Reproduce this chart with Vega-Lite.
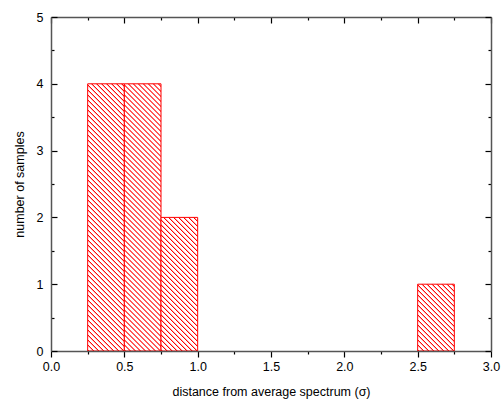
{
  "$schema": "https://vega.github.io/schema/vega-lite/v6.json",
  "width": 440,
  "height": 334,
  "autosize": "none",
  "padding": {"left": 51, "top": 17, "right": 10, "bottom": 49},
  "config": {"view": {"stroke": null}, "font": "Liberation Sans"},
  "data": {"values": [
    {"bin_start": 0.25, "bin_end": 0.5, "count": 4},
    {"bin_start": 0.5, "bin_end": 0.75, "count": 4},
    {"bin_start": 0.75, "bin_end": 1.0, "count": 2},
    {"bin_start": 2.5, "bin_end": 2.75, "count": 1}
  ]},
  "resolve": {"axis": {"x": "independent", "y": "independent"}},
  "layer": [
    {
      "mark": {"type": "rect", "stroke": "#ff0000", "strokeWidth": 1},
      "encoding": {
        "x": {
          "field": "bin_start", "type": "quantitative",
          "scale": {"domain": [0, 3], "nice": false},
          "axis": {
            "orient": "bottom",
            "values": [0, 0.25, 0.5, 0.75, 1, 1.25, 1.5, 1.75, 2, 2.25, 2.5, 2.75, 3],
            "labelExpr": "datum.value % 0.5 == 0 ? format(datum.value, '.1f') : ''",
            "tickSize": {"condition": {"test": "datum.value % 0.5 != 0", "value": 3}, "value": 6},
            "labelFlush": false, "labelOverlap": false, "labelPadding": 3.5,
            "labelFontSize": 12.5, "labelColor": "#000", "labelFont": "Liberation Sans",
            "title": "distance from average spectrum (σ)",
            "titleFontSize": 12.5, "titleFontWeight": "normal", "titleColor": "#000", "titleFont": "Liberation Sans",
            "titlePadding": 12,
            "domainColor": "#555", "domainWidth": 1.5, "tickColor": "#000", "tickWidth": 1.2,
            "grid": false, "zindex": 1
          }
        },
        "x2": {"field": "bin_end"},
        "y": {
          "field": "count", "type": "quantitative",
          "scale": {"domain": [0, 5], "nice": false},
          "axis": {
            "orient": "left",
            "values": [0, 0.5, 1, 1.5, 2, 2.5, 3, 3.5, 4, 4.5, 5],
            "labelExpr": "datum.value % 1 == 0 ? format(datum.value, 'd') : ''",
            "tickSize": {"condition": {"test": "datum.value % 1 != 0", "value": -3}, "value": -6},
            "labelFlush": false, "labelOverlap": false, "labelPadding": 14,
            "labelFontSize": 12.5, "labelColor": "#000", "labelFont": "Liberation Sans",
            "title": "number of samples",
            "titleFontSize": 12.5, "titleFontWeight": "normal", "titleColor": "#000", "titleFont": "Liberation Sans",
            "titlePadding": 10,
            "domainColor": "#555", "domainWidth": 1.5, "tickColor": "#000", "tickWidth": 1.2,
            "grid": false, "zindex": 1
          }
        },
        "y2": {"datum": 0},
        "fill": {
          "condition": [
            {"test": "datum.count == 4", "value": {"gradient": "linear", "x1": 0, "y1": 1, "x2": 0.153172, "y2": -0.116201, "stops": [
{"offset":0,"color":"#fff"},{"offset":0.00329,"color":"#f00"},{"offset":0.00428,"color":"#f00"},{"offset":0.00757,"color":"#fff"},
{"offset":0.01646,"color":"#fff"},{"offset":0.01975,"color":"#f00"},{"offset":0.02073,"color":"#f00"},{"offset":0.02402,"color":"#fff"},
{"offset":0.03291,"color":"#fff"},{"offset":0.03620,"color":"#f00"},{"offset":0.03719,"color":"#f00"},{"offset":0.04048,"color":"#fff"},
{"offset":0.04937,"color":"#fff"},{"offset":0.05266,"color":"#f00"},{"offset":0.05364,"color":"#f00"},{"offset":0.05693,"color":"#fff"},
{"offset":0.06582,"color":"#fff"},{"offset":0.06911,"color":"#f00"},{"offset":0.07010,"color":"#f00"},{"offset":0.07339,"color":"#fff"},
{"offset":0.08228,"color":"#fff"},{"offset":0.08557,"color":"#f00"},{"offset":0.08655,"color":"#f00"},{"offset":0.08984,"color":"#fff"},
{"offset":0.09873,"color":"#fff"},{"offset":0.10202,"color":"#f00"},{"offset":0.10301,"color":"#f00"},{"offset":0.10630,"color":"#fff"},
{"offset":0.11519,"color":"#fff"},{"offset":0.11848,"color":"#f00"},{"offset":0.11946,"color":"#f00"},{"offset":0.12275,"color":"#fff"},
{"offset":0.13164,"color":"#fff"},{"offset":0.13493,"color":"#f00"},{"offset":0.13592,"color":"#f00"},{"offset":0.13921,"color":"#fff"},
{"offset":0.14810,"color":"#fff"},{"offset":0.15139,"color":"#f00"},{"offset":0.15237,"color":"#f00"},{"offset":0.15566,"color":"#fff"},
{"offset":0.16455,"color":"#fff"},{"offset":0.16784,"color":"#f00"},{"offset":0.16883,"color":"#f00"},{"offset":0.17212,"color":"#fff"},
{"offset":0.18101,"color":"#fff"},{"offset":0.18430,"color":"#f00"},{"offset":0.18528,"color":"#f00"},{"offset":0.18857,"color":"#fff"},
{"offset":0.19746,"color":"#fff"},{"offset":0.20075,"color":"#f00"},{"offset":0.20174,"color":"#f00"},{"offset":0.20503,"color":"#fff"},
{"offset":0.21392,"color":"#fff"},{"offset":0.21721,"color":"#f00"},{"offset":0.21819,"color":"#f00"},{"offset":0.22148,"color":"#fff"},
{"offset":0.23037,"color":"#fff"},{"offset":0.23366,"color":"#f00"},{"offset":0.23465,"color":"#f00"},{"offset":0.23794,"color":"#fff"},
{"offset":0.24683,"color":"#fff"},{"offset":0.25012,"color":"#f00"},{"offset":0.25110,"color":"#f00"},{"offset":0.25439,"color":"#fff"},
{"offset":0.26328,"color":"#fff"},{"offset":0.26657,"color":"#f00"},{"offset":0.26756,"color":"#f00"},{"offset":0.27085,"color":"#fff"},
{"offset":0.27974,"color":"#fff"},{"offset":0.28303,"color":"#f00"},{"offset":0.28401,"color":"#f00"},{"offset":0.28730,"color":"#fff"},
{"offset":0.29619,"color":"#fff"},{"offset":0.29948,"color":"#f00"},{"offset":0.30047,"color":"#f00"},{"offset":0.30376,"color":"#fff"},
{"offset":0.31265,"color":"#fff"},{"offset":0.31594,"color":"#f00"},{"offset":0.31692,"color":"#f00"},{"offset":0.32021,"color":"#fff"},
{"offset":0.32910,"color":"#fff"},{"offset":0.33239,"color":"#f00"},{"offset":0.33338,"color":"#f00"},{"offset":0.33667,"color":"#fff"},
{"offset":0.34556,"color":"#fff"},{"offset":0.34885,"color":"#f00"},{"offset":0.34983,"color":"#f00"},{"offset":0.35312,"color":"#fff"},
{"offset":0.36201,"color":"#fff"},{"offset":0.36530,"color":"#f00"},{"offset":0.36629,"color":"#f00"},{"offset":0.36958,"color":"#fff"},
{"offset":0.37847,"color":"#fff"},{"offset":0.38176,"color":"#f00"},{"offset":0.38274,"color":"#f00"},{"offset":0.38603,"color":"#fff"},
{"offset":0.39492,"color":"#fff"},{"offset":0.39821,"color":"#f00"},{"offset":0.39920,"color":"#f00"},{"offset":0.40249,"color":"#fff"},
{"offset":0.41138,"color":"#fff"},{"offset":0.41467,"color":"#f00"},{"offset":0.41565,"color":"#f00"},{"offset":0.41894,"color":"#fff"},
{"offset":0.42783,"color":"#fff"},{"offset":0.43112,"color":"#f00"},{"offset":0.43211,"color":"#f00"},{"offset":0.43540,"color":"#fff"},
{"offset":0.44429,"color":"#fff"},{"offset":0.44758,"color":"#f00"},{"offset":0.44856,"color":"#f00"},{"offset":0.45185,"color":"#fff"},
{"offset":0.46074,"color":"#fff"},{"offset":0.46403,"color":"#f00"},{"offset":0.46502,"color":"#f00"},{"offset":0.46831,"color":"#fff"},
{"offset":0.47720,"color":"#fff"},{"offset":0.48049,"color":"#f00"},{"offset":0.48147,"color":"#f00"},{"offset":0.48476,"color":"#fff"},
{"offset":0.49365,"color":"#fff"},{"offset":0.49694,"color":"#f00"},{"offset":0.49793,"color":"#f00"},{"offset":0.50122,"color":"#fff"},
{"offset":0.51011,"color":"#fff"},{"offset":0.51340,"color":"#f00"},{"offset":0.51438,"color":"#f00"},{"offset":0.51767,"color":"#fff"},
{"offset":0.52656,"color":"#fff"},{"offset":0.52985,"color":"#f00"},{"offset":0.53084,"color":"#f00"},{"offset":0.53413,"color":"#fff"},
{"offset":0.54302,"color":"#fff"},{"offset":0.54631,"color":"#f00"},{"offset":0.54729,"color":"#f00"},{"offset":0.55058,"color":"#fff"},
{"offset":0.55947,"color":"#fff"},{"offset":0.56276,"color":"#f00"},{"offset":0.56375,"color":"#f00"},{"offset":0.56704,"color":"#fff"},
{"offset":0.57593,"color":"#fff"},{"offset":0.57922,"color":"#f00"},{"offset":0.58020,"color":"#f00"},{"offset":0.58349,"color":"#fff"},
{"offset":0.59238,"color":"#fff"},{"offset":0.59567,"color":"#f00"},{"offset":0.59666,"color":"#f00"},{"offset":0.59995,"color":"#fff"},
{"offset":0.60884,"color":"#fff"},{"offset":0.61213,"color":"#f00"},{"offset":0.61311,"color":"#f00"},{"offset":0.61640,"color":"#fff"},
{"offset":0.62529,"color":"#fff"},{"offset":0.62858,"color":"#f00"},{"offset":0.62957,"color":"#f00"},{"offset":0.63286,"color":"#fff"},
{"offset":0.64175,"color":"#fff"},{"offset":0.64504,"color":"#f00"},{"offset":0.64602,"color":"#f00"},{"offset":0.64931,"color":"#fff"},
{"offset":0.65820,"color":"#fff"},{"offset":0.66149,"color":"#f00"},{"offset":0.66248,"color":"#f00"},{"offset":0.66577,"color":"#fff"},
{"offset":0.67466,"color":"#fff"},{"offset":0.67795,"color":"#f00"},{"offset":0.67893,"color":"#f00"},{"offset":0.68222,"color":"#fff"},
{"offset":0.69111,"color":"#fff"},{"offset":0.69440,"color":"#f00"},{"offset":0.69539,"color":"#f00"},{"offset":0.69868,"color":"#fff"},
{"offset":0.70757,"color":"#fff"},{"offset":0.71086,"color":"#f00"},{"offset":0.71184,"color":"#f00"},{"offset":0.71513,"color":"#fff"},
{"offset":0.72402,"color":"#fff"},{"offset":0.72731,"color":"#f00"},{"offset":0.72830,"color":"#f00"},{"offset":0.73159,"color":"#fff"},
{"offset":0.74048,"color":"#fff"},{"offset":0.74377,"color":"#f00"},{"offset":0.74475,"color":"#f00"},{"offset":0.74804,"color":"#fff"},
{"offset":0.75693,"color":"#fff"},{"offset":0.76022,"color":"#f00"},{"offset":0.76121,"color":"#f00"},{"offset":0.76450,"color":"#fff"},
{"offset":0.77339,"color":"#fff"},{"offset":0.77668,"color":"#f00"},{"offset":0.77766,"color":"#f00"},{"offset":0.78095,"color":"#fff"},
{"offset":0.78984,"color":"#fff"},{"offset":0.79313,"color":"#f00"},{"offset":0.79412,"color":"#f00"},{"offset":0.79741,"color":"#fff"},
{"offset":0.80630,"color":"#fff"},{"offset":0.80959,"color":"#f00"},{"offset":0.81057,"color":"#f00"},{"offset":0.81386,"color":"#fff"},
{"offset":0.82275,"color":"#fff"},{"offset":0.82604,"color":"#f00"},{"offset":0.82703,"color":"#f00"},{"offset":0.83032,"color":"#fff"},
{"offset":0.83921,"color":"#fff"},{"offset":0.84250,"color":"#f00"},{"offset":0.84348,"color":"#f00"},{"offset":0.84677,"color":"#fff"},
{"offset":0.85566,"color":"#fff"},{"offset":0.85895,"color":"#f00"},{"offset":0.85994,"color":"#f00"},{"offset":0.86323,"color":"#fff"},
{"offset":0.87212,"color":"#fff"},{"offset":0.87541,"color":"#f00"},{"offset":0.87639,"color":"#f00"},{"offset":0.87968,"color":"#fff"},
{"offset":0.88857,"color":"#fff"},{"offset":0.89186,"color":"#f00"},{"offset":0.89285,"color":"#f00"},{"offset":0.89614,"color":"#fff"},
{"offset":0.90503,"color":"#fff"},{"offset":0.90832,"color":"#f00"},{"offset":0.90930,"color":"#f00"},{"offset":0.91259,"color":"#fff"},
{"offset":0.92148,"color":"#fff"},{"offset":0.92477,"color":"#f00"},{"offset":0.92576,"color":"#f00"},{"offset":0.92905,"color":"#fff"},
{"offset":0.93794,"color":"#fff"},{"offset":0.94123,"color":"#f00"},{"offset":0.94221,"color":"#f00"},{"offset":0.94550,"color":"#fff"},
{"offset":0.95439,"color":"#fff"},{"offset":0.95768,"color":"#f00"},{"offset":0.95867,"color":"#f00"},{"offset":0.96196,"color":"#fff"},
{"offset":0.97085,"color":"#fff"},{"offset":0.97414,"color":"#f00"},{"offset":0.97512,"color":"#f00"},{"offset":0.97841,"color":"#fff"},
{"offset":0.98730,"color":"#fff"},{"offset":0.99059,"color":"#f00"},{"offset":0.99158,"color":"#f00"},{"offset":0.99487,"color":"#fff"},
{"offset":1,"color":"#fff"}
            ]}},
            {"test": "datum.count == 2", "value": {"gradient": "linear", "x1": 0, "y1": 1, "x2": 0.325277, "y2": -0.185179, "stops": [
{"offset":0,"color":"#fff"},{"offset":0.00587,"color":"#f00"},{"offset":0.00764,"color":"#f00"},{"offset":0.01351,"color":"#fff"},
{"offset":0.02937,"color":"#fff"},{"offset":0.03524,"color":"#f00"},{"offset":0.03700,"color":"#f00"},{"offset":0.04287,"color":"#fff"},
{"offset":0.05873,"color":"#fff"},{"offset":0.06461,"color":"#f00"},{"offset":0.06637,"color":"#f00"},{"offset":0.07224,"color":"#fff"},
{"offset":0.08810,"color":"#fff"},{"offset":0.09397,"color":"#f00"},{"offset":0.09573,"color":"#f00"},{"offset":0.10161,"color":"#fff"},
{"offset":0.11746,"color":"#fff"},{"offset":0.12334,"color":"#f00"},{"offset":0.12510,"color":"#f00"},{"offset":0.13097,"color":"#fff"},
{"offset":0.14683,"color":"#fff"},{"offset":0.15270,"color":"#f00"},{"offset":0.15447,"color":"#f00"},{"offset":0.16034,"color":"#fff"},
{"offset":0.17620,"color":"#fff"},{"offset":0.18207,"color":"#f00"},{"offset":0.18383,"color":"#f00"},{"offset":0.18970,"color":"#fff"},
{"offset":0.20556,"color":"#fff"},{"offset":0.21144,"color":"#f00"},{"offset":0.21320,"color":"#f00"},{"offset":0.21907,"color":"#fff"},
{"offset":0.23493,"color":"#fff"},{"offset":0.24080,"color":"#f00"},{"offset":0.24256,"color":"#f00"},{"offset":0.24844,"color":"#fff"},
{"offset":0.26429,"color":"#fff"},{"offset":0.27017,"color":"#f00"},{"offset":0.27193,"color":"#f00"},{"offset":0.27780,"color":"#fff"},
{"offset":0.29366,"color":"#fff"},{"offset":0.29953,"color":"#f00"},{"offset":0.30130,"color":"#f00"},{"offset":0.30717,"color":"#fff"},
{"offset":0.32303,"color":"#fff"},{"offset":0.32890,"color":"#f00"},{"offset":0.33066,"color":"#f00"},{"offset":0.33653,"color":"#fff"},
{"offset":0.35239,"color":"#fff"},{"offset":0.35827,"color":"#f00"},{"offset":0.36003,"color":"#f00"},{"offset":0.36590,"color":"#fff"},
{"offset":0.38176,"color":"#fff"},{"offset":0.38763,"color":"#f00"},{"offset":0.38939,"color":"#f00"},{"offset":0.39527,"color":"#fff"},
{"offset":0.41112,"color":"#fff"},{"offset":0.41700,"color":"#f00"},{"offset":0.41876,"color":"#f00"},{"offset":0.42463,"color":"#fff"},
{"offset":0.44049,"color":"#fff"},{"offset":0.44636,"color":"#f00"},{"offset":0.44813,"color":"#f00"},{"offset":0.45400,"color":"#fff"},
{"offset":0.46986,"color":"#fff"},{"offset":0.47573,"color":"#f00"},{"offset":0.47749,"color":"#f00"},{"offset":0.48336,"color":"#fff"},
{"offset":0.49922,"color":"#fff"},{"offset":0.50510,"color":"#f00"},{"offset":0.50686,"color":"#f00"},{"offset":0.51273,"color":"#fff"},
{"offset":0.52859,"color":"#fff"},{"offset":0.53446,"color":"#f00"},{"offset":0.53622,"color":"#f00"},{"offset":0.54210,"color":"#fff"},
{"offset":0.55795,"color":"#fff"},{"offset":0.56383,"color":"#f00"},{"offset":0.56559,"color":"#f00"},{"offset":0.57146,"color":"#fff"},
{"offset":0.58732,"color":"#fff"},{"offset":0.59319,"color":"#f00"},{"offset":0.59496,"color":"#f00"},{"offset":0.60083,"color":"#fff"},
{"offset":0.61669,"color":"#fff"},{"offset":0.62256,"color":"#f00"},{"offset":0.62432,"color":"#f00"},{"offset":0.63019,"color":"#fff"},
{"offset":0.64605,"color":"#fff"},{"offset":0.65193,"color":"#f00"},{"offset":0.65369,"color":"#f00"},{"offset":0.65956,"color":"#fff"},
{"offset":0.67542,"color":"#fff"},{"offset":0.68129,"color":"#f00"},{"offset":0.68305,"color":"#f00"},{"offset":0.68893,"color":"#fff"},
{"offset":0.70478,"color":"#fff"},{"offset":0.71066,"color":"#f00"},{"offset":0.71242,"color":"#f00"},{"offset":0.71829,"color":"#fff"},
{"offset":0.73415,"color":"#fff"},{"offset":0.74002,"color":"#f00"},{"offset":0.74179,"color":"#f00"},{"offset":0.74766,"color":"#fff"},
{"offset":0.76352,"color":"#fff"},{"offset":0.76939,"color":"#f00"},{"offset":0.77115,"color":"#f00"},{"offset":0.77702,"color":"#fff"},
{"offset":0.79288,"color":"#fff"},{"offset":0.79876,"color":"#f00"},{"offset":0.80052,"color":"#f00"},{"offset":0.80639,"color":"#fff"},
{"offset":0.82225,"color":"#fff"},{"offset":0.82812,"color":"#f00"},{"offset":0.82988,"color":"#f00"},{"offset":0.83576,"color":"#fff"},
{"offset":0.85161,"color":"#fff"},{"offset":0.85749,"color":"#f00"},{"offset":0.85925,"color":"#f00"},{"offset":0.86512,"color":"#fff"},
{"offset":0.88098,"color":"#fff"},{"offset":0.88685,"color":"#f00"},{"offset":0.88862,"color":"#f00"},{"offset":0.89449,"color":"#fff"},
{"offset":0.91035,"color":"#fff"},{"offset":0.91622,"color":"#f00"},{"offset":0.91798,"color":"#f00"},{"offset":0.92385,"color":"#fff"},
{"offset":0.93971,"color":"#fff"},{"offset":0.94559,"color":"#f00"},{"offset":0.94735,"color":"#f00"},{"offset":0.95322,"color":"#fff"},
{"offset":0.96908,"color":"#fff"},{"offset":0.97495,"color":"#f00"},{"offset":0.97671,"color":"#f00"},{"offset":0.98259,"color":"#fff"},
{"offset":1,"color":"#fff"}
            ]}}
          ],
          "value": {"gradient": "linear", "x1": 0, "y1": 1, "x2": 0.653351, "y2": -0.190282, "stops": [
{"offset":0,"color":"#fff"},{"offset":0.00967,"color":"#f00"},{"offset":0.01257,"color":"#f00"},{"offset":0.02223,"color":"#fff"},
{"offset":0.04833,"color":"#fff"},{"offset":0.05799,"color":"#f00"},{"offset":0.06089,"color":"#f00"},{"offset":0.07056,"color":"#fff"},
{"offset":0.09665,"color":"#fff"},{"offset":0.10632,"color":"#f00"},{"offset":0.10922,"color":"#f00"},{"offset":0.11888,"color":"#fff"},
{"offset":0.14498,"color":"#fff"},{"offset":0.15464,"color":"#f00"},{"offset":0.15754,"color":"#f00"},{"offset":0.16721,"color":"#fff"},
{"offset":0.19330,"color":"#fff"},{"offset":0.20297,"color":"#f00"},{"offset":0.20587,"color":"#f00"},{"offset":0.21553,"color":"#fff"},
{"offset":0.24163,"color":"#fff"},{"offset":0.25129,"color":"#f00"},{"offset":0.25419,"color":"#f00"},{"offset":0.26386,"color":"#fff"},
{"offset":0.28995,"color":"#fff"},{"offset":0.29962,"color":"#f00"},{"offset":0.30252,"color":"#f00"},{"offset":0.31218,"color":"#fff"},
{"offset":0.33828,"color":"#fff"},{"offset":0.34794,"color":"#f00"},{"offset":0.35084,"color":"#f00"},{"offset":0.36051,"color":"#fff"},
{"offset":0.38660,"color":"#fff"},{"offset":0.39627,"color":"#f00"},{"offset":0.39917,"color":"#f00"},{"offset":0.40883,"color":"#fff"},
{"offset":0.43493,"color":"#fff"},{"offset":0.44459,"color":"#f00"},{"offset":0.44749,"color":"#f00"},{"offset":0.45716,"color":"#fff"},
{"offset":0.48325,"color":"#fff"},{"offset":0.49292,"color":"#f00"},{"offset":0.49582,"color":"#f00"},{"offset":0.50548,"color":"#fff"},
{"offset":0.53158,"color":"#fff"},{"offset":0.54124,"color":"#f00"},{"offset":0.54414,"color":"#f00"},{"offset":0.55381,"color":"#fff"},
{"offset":0.57990,"color":"#fff"},{"offset":0.58957,"color":"#f00"},{"offset":0.59247,"color":"#f00"},{"offset":0.60213,"color":"#fff"},
{"offset":0.62823,"color":"#fff"},{"offset":0.63789,"color":"#f00"},{"offset":0.64079,"color":"#f00"},{"offset":0.65046,"color":"#fff"},
{"offset":0.67655,"color":"#fff"},{"offset":0.68622,"color":"#f00"},{"offset":0.68912,"color":"#f00"},{"offset":0.69878,"color":"#fff"},
{"offset":0.72488,"color":"#fff"},{"offset":0.73454,"color":"#f00"},{"offset":0.73744,"color":"#f00"},{"offset":0.74711,"color":"#fff"},
{"offset":0.77320,"color":"#fff"},{"offset":0.78287,"color":"#f00"},{"offset":0.78577,"color":"#f00"},{"offset":0.79543,"color":"#fff"},
{"offset":0.82153,"color":"#fff"},{"offset":0.83119,"color":"#f00"},{"offset":0.83409,"color":"#f00"},{"offset":0.84376,"color":"#fff"},
{"offset":0.86985,"color":"#fff"},{"offset":0.87952,"color":"#f00"},{"offset":0.88242,"color":"#f00"},{"offset":0.89208,"color":"#fff"},
{"offset":0.91818,"color":"#fff"},{"offset":0.92784,"color":"#f00"},{"offset":0.93074,"color":"#f00"},{"offset":0.94041,"color":"#fff"},
{"offset":0.96650,"color":"#fff"},{"offset":0.97617,"color":"#f00"},{"offset":0.97907,"color":"#f00"},{"offset":0.98873,"color":"#fff"},
{"offset":1,"color":"#fff"}
          ]}
        }
      }
    },
    {
      "mark": {"type": "rect", "opacity": 0},
      "encoding": {
        "x": {
          "field": "bin_start", "type": "quantitative",
          "scale": {"domain": [0, 3], "nice": false},
          "axis": {
            "orient": "top",
            "values": [0, 0.25, 0.5, 0.75, 1, 1.25, 1.5, 1.75, 2, 2.25, 2.5, 2.75, 3],
            "labels": false, "title": null,
            "tickSize": {"condition": {"test": "datum.value % 0.5 != 0", "value": -3}, "value": -6},
            "domainColor": "#555", "domainWidth": 1.5, "tickColor": "#000", "tickWidth": 1.2,
            "grid": false, "zindex": 1
          }
        },
        "x2": {"field": "bin_end"},
        "y": {
          "field": "count", "type": "quantitative",
          "scale": {"domain": [0, 5], "nice": false},
          "axis": {
            "orient": "right",
            "values": [0, 0.5, 1, 1.5, 2, 2.5, 3, 3.5, 4, 4.5, 5],
            "labels": false, "title": null,
            "tickSize": {"condition": {"test": "datum.value % 1 != 0", "value": -3}, "value": -6},
            "domainColor": "#555", "domainWidth": 1.5, "tickColor": "#000", "tickWidth": 1.2,
            "grid": false, "zindex": 1
          }
        },
        "y2": {"datum": 0}
      }
    }
  ]
}
